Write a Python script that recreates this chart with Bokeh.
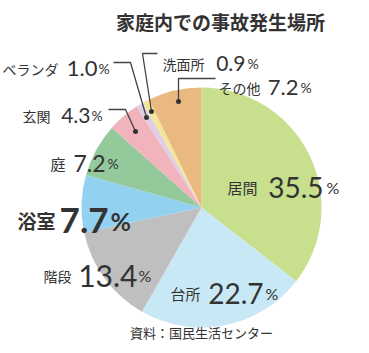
import math
from bokeh.plotting import figure
from bokeh.models import Range1d
from bokeh.core.properties import value
from bokeh.embed import file_html
from bokeh.resources import INLINE

# ---- data ----
places = ["居間", "台所", "階段", "浴室", "庭", "玄関", "ベランダ", "洗面所", "その他"]
shares = [35.5, 22.7, 13.4, 7.7, 7.2, 4.3, 1.0, 0.9, 7.2]
colors = ["#c8df8e", "#c9e8f6", "#bfbfbf", "#93d1f0", "#94ca9b",
          "#f2b4bc", "#decfe7", "#f4e49c", "#e9b97f"]
title = "家庭内での事故発生場所"
source = "資料：国民生活センター"

W, H = 369, 353
def Y(y):
    return H - y

p = figure(width=W, height=H, output_backend="svg", toolbar_location=None,
           x_range=Range1d(0, W), y_range=Range1d(0, H),
           x_axis_type=None, y_axis_type=None, min_border=0)
p.outline_line_color = None
p.grid.visible = False
p.background_fill_color = "white"
p.border_fill_color = "white"

# ---- pie ----
cx, cy, r = 201, Y(207), 120
total = sum(shares)
cum = 0.0
starts, ends = [], []
for s in shares:
    a0 = math.pi / 2 - 2 * math.pi * cum / total
    cum += s
    a1 = math.pi / 2 - 2 * math.pi * cum / total
    starts.append(a1)
    ends.append(a0)
p.wedge(x=[cx] * len(shares), y=[cy] * len(shares), radius=r,
        start_angle=starts, end_angle=ends, fill_color=colors, line_color=None)

JP = "Noto Sans CJK JP"
NUM = "Lato"
TXT = "#333333"

# label layout: name left x, number right x, pct left x, baseline y, sizes, bold
layout = {
    "居間": (227, 323, 326, 187, 15, 28, 16, False),
    "台所": (170, 263, 265, 293, 15, 28, 16, False),
    "階段": (43, 137, 138, 275, 14, 30, 16, False),
    "浴室": (17, 108, 110, 220, 19, 35, 25, True),
    "庭": (50, 105, 107, 163, 15, 23, 14, False),
    "玄関": (22, 90, 91, 115, 14, 21, 14, False),
    "ベランダ": (2, 97, 98, 68, 14, 22, 14, False),
    "洗面所": (162, 245, 247, 63, 14, 21, 14, False),
    "その他": (218, 298, 300, 87, 14, 22, 14, False),
}

for name, v in zip(places, shares):
    nx, vx, px, by, fs1, fs2, fs3, bold = layout[name]
    style = "bold" if bold else "normal"
    p.text(x=[nx], y=[Y(by)], text=[name], text_font=value(JP),
           text_font_size=f"{fs1}px", text_font_style=style, text_color=TXT,
           text_align="left", text_baseline="alphabetic")
    p.text(x=[vx], y=[Y(by)], text=[f"{v:.1f}"], text_font=value(NUM),
           text_font_size=f"{fs2}px", text_font_style=style, text_color=TXT,
           text_align="right", text_baseline="alphabetic")
    p.text(x=[px], y=[Y(by)], text=["%"], text_font=value(NUM),
           text_font_size=f"{fs3}px", text_font_style=style, text_color=TXT,
           text_align="left", text_baseline="alphabetic")

# ---- leader lines ----
leaders = [
    ([113, 130, 146], [62, 62, 117]),
    ([157, 142, 151], [53, 53, 111]),
    ([215, 178, 178], [78, 78, 101]),
    ([108, 125, 135], [109, 109, 131]),
]
for xs, ys in leaders:
    p.line(x=xs, y=[Y(v) for v in ys], line_color="#444444", line_width=1.3)
    p.scatter(x=[xs[-1]], y=[Y(ys[-1])], size=5, fill_color="#333333", line_color=None)

# ---- title & source ----
p.text(x=[220], y=[Y(21)], text=[title], text_font=value(JP), text_font_size="19px",
       text_font_style="bold", text_color=TXT, text_align="center", text_baseline="middle")
p.text(x=[201], y=[Y(332)], text=[source], text_font=value(JP), text_font_size="13px",
       text_color=TXT, text_align="center", text_baseline="middle")

open("out.html", "w").write(file_html(p, INLINE))
